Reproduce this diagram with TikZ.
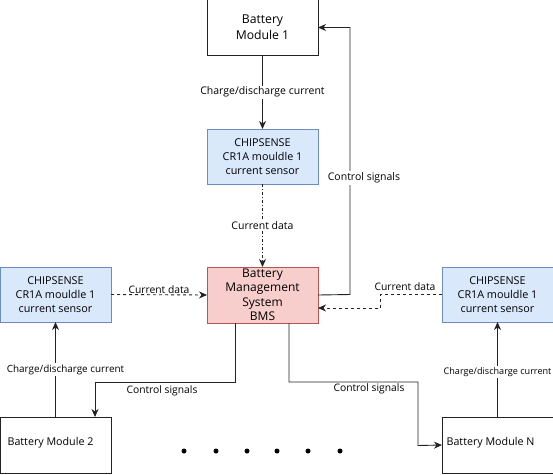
\documentclass[tikz,border=0pt]{standalone}
\usepackage{fontspec}
\setmainfont{Open Sans}
\usetikzlibrary{arrows.meta}
\definecolor{bluefill}{HTML}{DAE8FC}
\definecolor{blueline}{HTML}{6C8EBF}
\definecolor{redfill}{HTML}{F8CECC}
\definecolor{redline}{HTML}{B85450}
\definecolor{ln}{HTML}{222222}
\tikzset{
  plainbox/.style={draw=ln, fill=white, line width=0.9pt, minimum width=111pt, minimum height=56pt, anchor=north west, outer sep=0pt, inner sep=0pt},
  sensorbox/.style={draw=blueline, fill=bluefill, line width=0.9pt, minimum width=111pt, minimum height=55pt, anchor=north west, outer sep=0pt, inner sep=0pt, align=center, font=\fontsize{10.8}{14}\selectfont},
  bmsbox/.style={draw=redline, fill=redfill, line width=0.9pt, minimum width=111pt, minimum height=56pt, anchor=north west, outer sep=0pt, inner sep=0pt, align=center, font=\fontsize{12}{14.5}\selectfont},
  txt/.style={inner sep=0pt, font=\fontsize{10.7}{12}\selectfont},
  lbl/.style={fill=white, inner sep=1.5pt, font=\fontsize{10.5}{12}\selectfont},
  conn/.style={draw=ln, line width=0.9pt},
  arr/.style={conn, -{Stealth[length=8pt,width=7pt,inset=2.5pt]}},
  dotpt/.style={circle, fill=black, inner sep=0pt, minimum size=5pt},
}
\begin{document}
\begin{tikzpicture}[x=1pt,y=-1pt]
\useasboundingbox (0,0) rectangle (553,474);
% boxes
\node[plainbox, align=center, font=\fontsize{12.2}{16}\selectfont] (m1) at (207,-0.5) {Battery\\Module 1};
\node[sensorbox] (s1) at (207,129) {CHIPSENSE\\CR1A mouldle 1\\current sensor};
\node[bmsbox] (bms) at (207,267) {Battery\\Management\\System\\BMS};
\node[sensorbox] (s2) at (0,267) {CHIPSENSE\\CR1A mouldle 1\\current sensor};
\node[sensorbox] (s3) at (442,267) {CHIPSENSE\\CR1A mouldle 1\\current sensor};
\node[plainbox] (m2) at (0,417) {};
\node[txt] (m2t) at (50.5,443) {Battery Module 2};
\node[plainbox] (mN) at (442,417) {};
\node[txt] (mNt) at (490.5,443) {Battery Module N};
% top chain
\draw[arr] (m1.south) -- node[lbl] (l1) {Charge/discharge current} (s1.north);
\draw[arr, dash dot] (s1.south) -- node[lbl] (l2) {Current data} (bms.north);
\draw[arr] (bms.east) -- (350,294.5) |- (m1.east);
\node[lbl] (l3) at (364,178) {Control signals};
% left
\draw[arr, dashed] (s2.east) -- node[txt, above=1pt, font=\fontsize{10.3}{12}\selectfont] (l4) {Current data} (bms.west);
\draw[arr] (m2.north -| s2.south) -- node[lbl, xshift=10pt, font=\fontsize{9.9}{12}\selectfont] (l5) {Charge/discharge current} (s2.south);
\coordinate (c1) at (235,323);
\coordinate (c2) at (95,417);
\draw[arr] (c1) -- (235,382) -| (c2);
\node[txt, font=\fontsize{10.3}{12}\selectfont] (l6) at (162,391) {Control signals};
% right
\coordinate (c3) at (318,308);
\draw[arr, dashed] (s3.west) -- (380,294.5) -- (380,308) -- (c3);
\node[txt, font=\fontsize{10.3}{12}\selectfont] (l7) at (405,287) {Current data};
\draw[arr] (mN.north) -- node[lbl, pos=0.47, font=\fontsize{9.1}{11}\selectfont] (l8) {Charge/discharge current} (s3.south);
\coordinate (c4) at (289,323);
\draw[arr] (c4) -- (289,382) -- (418,382) -- (418,445.5) -- (mN.west);
\node[txt, font=\fontsize{10.3}{12}\selectfont] (l9) at (369,388.5) {Control signals};
% dots
\foreach \i/\xx in {1/184,2/216,3/247,4/277,5/308,6/340}
  \node[dotpt] (d\i) at (\xx,451) {};
\end{tikzpicture}
\end{document}
